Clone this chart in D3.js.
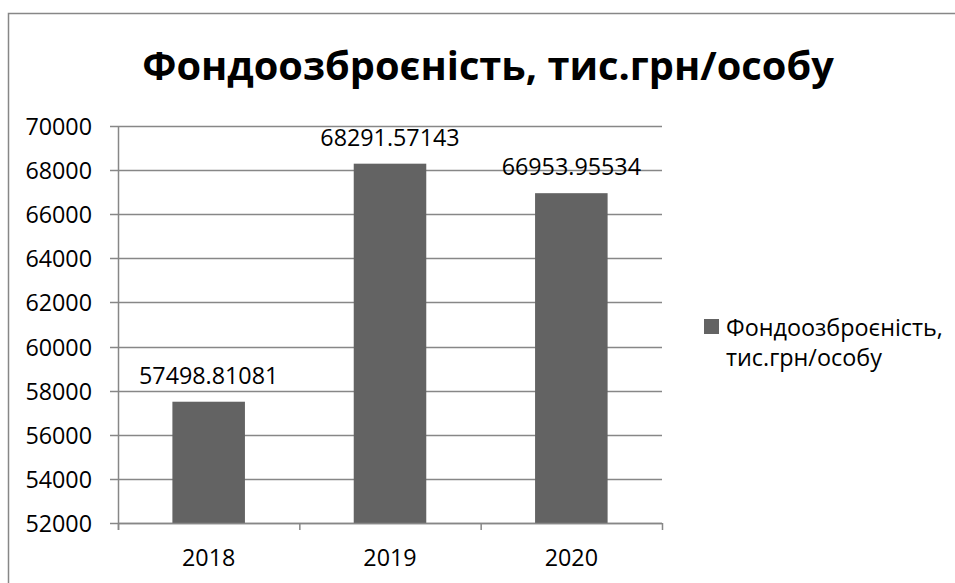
<!DOCTYPE html>
<html>
<head>
<meta charset="utf-8">
<script src="https://cdn.jsdelivr.net/npm/d3@7"></script>
<style>
  html, body { margin: 0; padding: 0; background: #fff; }
  svg { display: block; font-family: "Open Sans", "Noto Sans", sans-serif; }
</style>
</head>
<body>
<svg id="chart" width="955" height="583"></svg>
<script>
// Chart data
const years = ["2018", "2019", "2020"];
const values = [57498.81081, 68291.57143, 66953.95534];
const valueLabels = ["57498.81081", "68291.57143", "66953.95534"];
const yTicks = [52000, 54000, 56000, 58000, 60000, 62000, 64000, 66000, 68000, 70000];
const titleText = "Фондоозброєність, тис.грн/особу";
const legendLines = ["Фондоозброєність,", "тис.грн/особу"];

const svg = d3.select("#chart");
const barColor = "#636363";
const gridColor = "#878787";
const fs = 23.3;

// Fit a text element's font size so it spans the given width
function fitWidth(sel, base, target) {
  const w = sel.node().getComputedTextLength();
  if (w > 0) sel.style("font-size", (base * target / w) + "px");
}

// Outer frame of the chart area
svg.append("rect")
  .attr("x", 8.5).attr("y", 13.5)
  .attr("width", 1000).attr("height", 1000)
  .attr("fill", "none").attr("stroke", gridColor).attr("stroke-width", 1.5);

const plot = { left: 118, right: 662, top: 126, bottom: 523 };

const x = d3.scaleBand().domain(years).range([plot.left, plot.right]).paddingInner(0.6).paddingOuter(0.3);
const y = d3.scaleLinear().domain([52000, 70000]).range([plot.bottom, plot.top]);

// Horizontal grid lines
svg.append("g")
  .selectAll("line").data(yTicks).join("line")
  .attr("x1", plot.left - 8).attr("x2", plot.right)
  .attr("y1", d => Math.round(y(d)) + 0.5).attr("y2", d => Math.round(y(d)) + 0.5)
  .attr("stroke", gridColor).attr("stroke-width", 1.5);

// Y axis labels
svg.append("g")
  .selectAll("text").data(yTicks).join("text")
  .attr("x", 92).attr("y", d => y(d) + 9)
  .attr("text-anchor", "end")
  .style("font-size", fs + "px").attr("fill", "#000")
  .text(d => d);

// Bars
svg.append("g")
  .selectAll("rect").data(values).join("rect")
  .attr("x", (d, i) => x(years[i]))
  .attr("width", x.bandwidth())
  .attr("y", d => y(d))
  .attr("height", d => plot.bottom - y(d))
  .attr("fill", barColor);

// Value labels above bars
svg.append("g")
  .selectAll("text").data(values).join("text")
  .attr("x", (d, i) => x(years[i]) + x.bandwidth() / 2)
  .attr("y", d => y(d) - 18)
  .attr("text-anchor", "middle")
  .style("font-size", fs + "px").attr("fill", "#000")
  .text((d, i) => valueLabels[i]);

// Axes lines
svg.append("line")
  .attr("x1", plot.left + 0.5).attr("x2", plot.left + 0.5)
  .attr("y1", plot.top).attr("y2", plot.bottom + 7)
  .attr("stroke", gridColor).attr("stroke-width", 1.5);
svg.append("line")
  .attr("x1", plot.left).attr("x2", plot.right)
  .attr("y1", plot.bottom + 0.5).attr("y2", plot.bottom + 0.5)
  .attr("stroke", gridColor).attr("stroke-width", 1.5);

// Category tick marks between bands
const step = (plot.right - plot.left) / years.length;
svg.append("g")
  .selectAll("line").data(d3.range(years.length + 1)).join("line")
  .attr("x1", i => plot.left + i * step + 0.5).attr("x2", i => plot.left + i * step + 0.5)
  .attr("y1", plot.bottom).attr("y2", plot.bottom + 7)
  .attr("stroke", gridColor).attr("stroke-width", 1.5);

// Category labels
svg.append("g")
  .selectAll("text").data(years).join("text")
  .attr("x", d => x(d) + x.bandwidth() / 2)
  .attr("y", 566)
  .attr("text-anchor", "middle")
  .style("font-size", fs + "px").attr("fill", "#000")
  .text(d => d);

// Title
const title = svg.append("text")
  .attr("x", 488).attr("y", 80)
  .attr("text-anchor", "middle")
  .style("font-size", "39px").attr("font-weight", "bold").attr("fill", "#000")
  .text(titleText);
fitWidth(title, 39, 692);

// Legend
svg.append("rect")
  .attr("x", 704).attr("y", 319).attr("width", 15).attr("height", 15)
  .attr("fill", barColor);
const legendText = svg.append("g")
  .selectAll("text").data(legendLines).join("text")
  .attr("x", 726).attr("y", (d, i) => 336 + i * 30)
  .style("font-size", fs + "px").attr("fill", "#000")
  .text(d => d);
const lw = legendText.node().getComputedTextLength();
if (lw > 0) legendText.style("font-size", (fs * 217 / lw) + "px");
</script>
</body>
</html>
